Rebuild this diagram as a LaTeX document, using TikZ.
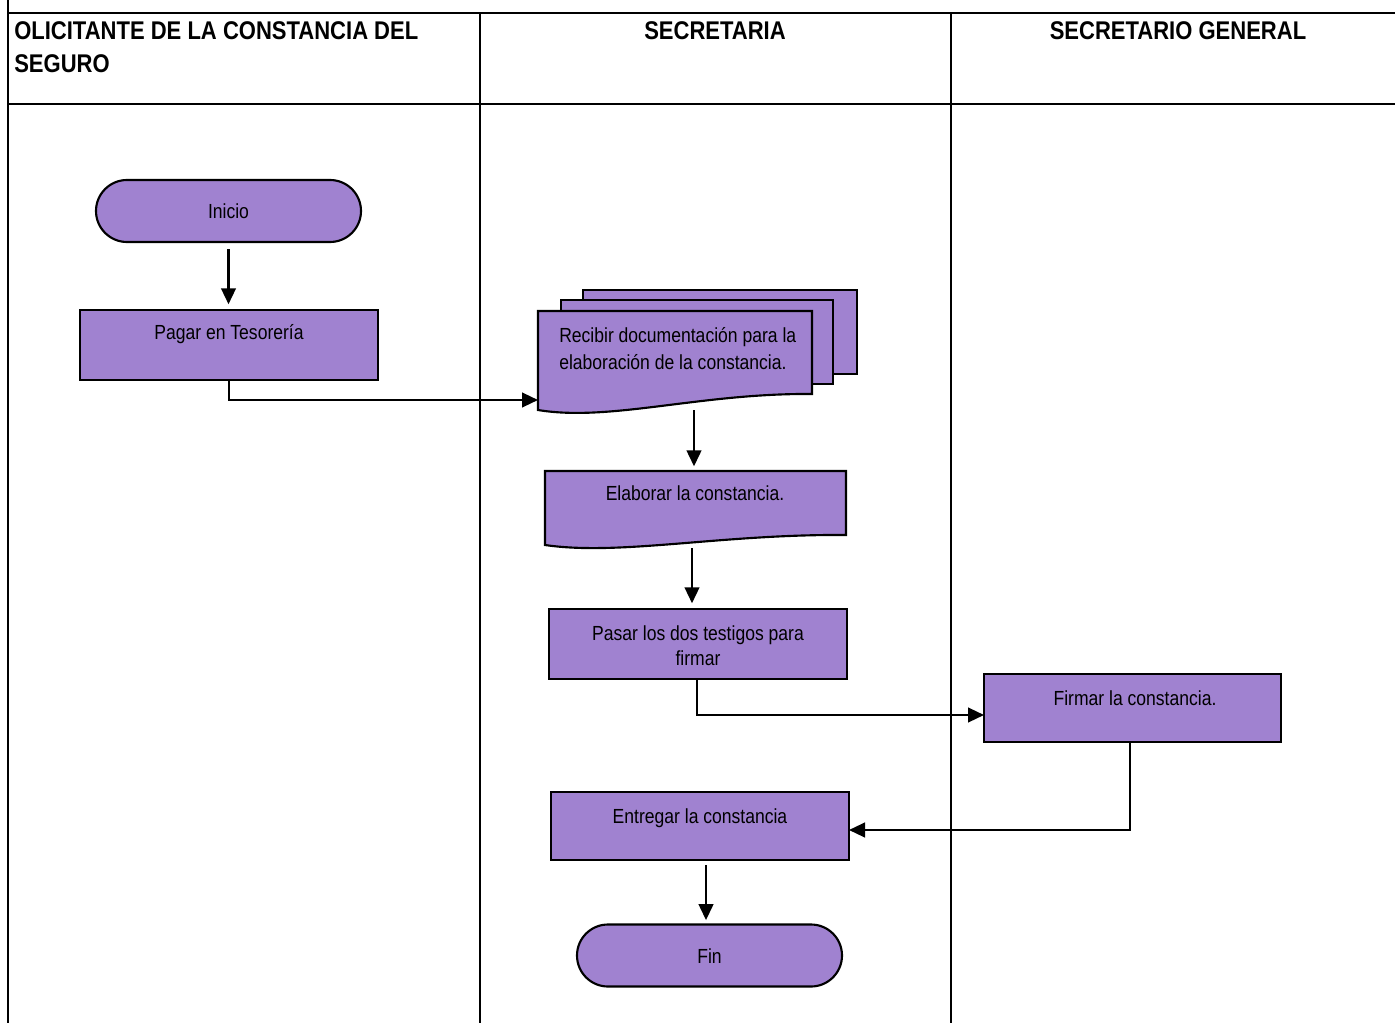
\documentclass[tikz,border=0pt]{standalone}
\usepackage{fontspec}
\setmainfont{Liberation Sans}[FakeStretch=0.86]
\usetikzlibrary{shapes.misc,arrows.meta}
\definecolor{fillp}{RGB}{160,130,208}
\begin{document}
\begin{tikzpicture}[x=0.75pt,y=-0.75pt,
  frame/.style={line width=1.9pt},
  shp/.style={draw, line width=1.6pt, fill=fillp, inner sep=0pt},
  boxn/.style={shp, rectangle, minimum width=223.5pt, minimum height=52.5pt},
  term/.style={shp, rounded rectangle, minimum width=198.75pt, minimum height=46.5pt},
  txt/.style={inner sep=0pt, font=\fontsize{15.3}{19}\selectfont},
  hdr/.style={inner sep=0pt, font=\bfseries\fontsize{19.2}{24}\selectfont},
  conn/.style={line width=1.7pt, -{Triangle[length=12pt,width=11pt]}}]
\useasboundingbox (0,0) rectangle (1395,1023);
% lanes
\draw[frame] (8,0) -- (8,1023);
\draw[frame] (8,13) -- (1395,13);
\draw[frame] (8,104) -- (1395,104);
\draw[frame] (480,13) -- (480,1023);
\draw[frame] (951,13) -- (951,1023);
\node[hdr, anchor=base west] (h1a) at (14,39.5) {OLICITANTE DE LA CONSTANCIA DEL};
\node[hdr, anchor=base west] (h1b) at (14,72.5) {SEGURO};
\node[hdr, anchor=base] (h2) at (715,39.5) {SECRETARIA};
\node[hdr, anchor=base] (h3) at (1178,39.5) {SECRETARIO GENERAL};
% shapes
\node[term] (inicio) at (228.5,211) {};
\node[txt, anchor=base] (tinicio) at (228.5,218.5) {Inicio};
\node[boxn] (pagar) at (229,345) {};
\node[txt, anchor=base] (tpagar) at (229,340) {Pagar en Tesorería};
% multi document
\fill[fillp, draw=black, line width=1.6pt] (583,290) rectangle (857,374);
\fill[fillp, draw=black, line width=1.6pt] (561,300) rectangle (833,384);
\fill[fillp, draw=black, line width=1.6pt] (538,311) -- (812,311) -- (812,394)
  .. controls (700,393) and (610,422) .. (538,410) -- cycle;
\coordinate (recibirL) at (538,400);
\coordinate (recibirB) at (694,410);
\node[txt, anchor=base west] (trec1) at (559,343) {Recibir documentación para la};
\node[txt, anchor=base west] (trec2) at (559,369) {elaboración de la constancia.};
% document
\fill[fillp, draw=black, line width=1.6pt] (545,471) -- (846,471) -- (846,535)
  .. controls (720,534) and (620,556) .. (545,545) -- cycle;
\coordinate (elabT) at (694,471);
\coordinate (elabB) at (692,548);
\node[txt, anchor=base] (telab) at (695,500) {Elaborar la constancia.};
\node[boxn] (pasar) at (698,644) {};
\node[txt, anchor=base] (tpas1) at (698,640) {Pasar los dos testigos para};
\node[txt, anchor=base] (tpas2) at (698,665) {firmar};
\node[boxn, minimum width=222.75pt, minimum height=51pt] (firmar) at (1132.5,708) {};
\node[txt, anchor=base] (tfir) at (1135,705) {Firmar la constancia.};
\node[boxn, minimum height=51pt] (entregar) at (700,826) {};
\node[txt, anchor=base] (tent) at (700,823) {Entregar la constancia};
\node[term] (fin) at (709.5,955.5) {};
\node[txt, anchor=base] (tfin) at (709.5,963) {Fin};
% connectors
\draw[conn, shorten <=4.5pt, shorten >=3.5pt] (inicio.south) -- (pagar.north -| inicio.south);
\draw[conn] (pagar.south) |- (recibirL);
\draw[conn, shorten >=3.5pt] (recibirB) -- (elabT);
\draw[conn, shorten >=3.5pt] (elabB) -- (pasar.north -| elabB);
\coordinate (pasB) at (697,679);
\coordinate (firL) at (984,715);
\draw[conn] (pasB) |- (firL);
\coordinate (firB) at (1130,742);
\coordinate (entR) at (849,830);
\draw[conn] (firB) |- (entR);
\coordinate (entB) at (706,865);
\draw[conn, shorten >=2.5pt] (entB) -- (fin.north -| entB);
\end{tikzpicture}
\end{document}
